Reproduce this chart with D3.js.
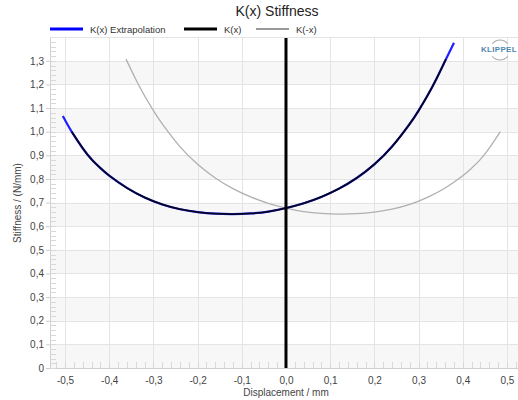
<!DOCTYPE html>
<html><head><meta charset="utf-8">
<script src="https://cdn.jsdelivr.net/npm/d3@7/dist/d3.min.js"></script>
<style>body{margin:0;background:#fff;font-family:Arial,"Liberation Sans",sans-serif}</style>
</head><body><svg id="c" width="518" height="400"></svg>
<script>
// Data
const xTicks = [-0.5,-0.4,-0.3,-0.2,-0.1,0.0,0.1,0.2,0.3,0.4,0.5];
const yTicks = [0,0.1,0.2,0.3,0.4,0.5,0.6,0.7,0.8,0.9,1.0,1.1,1.2,1.3];
const extrapX = [-0.505,-0.485,-0.46,-0.44,-0.42,-0.40,-0.36,-0.32,-0.28,-0.24,-0.20,-0.16,-0.12,-0.08,-0.04,0.00,0.04,0.08,0.12,0.16,0.20,0.24,0.28,0.30,0.32,0.34,0.36,0.38];
const extrapK = [1.066,1.000,0.930,0.883,0.846,0.814,0.762,0.722,0.692,0.672,0.660,0.653,0.651,0.654,0.662,0.677,0.697,0.724,0.759,0.804,0.862,0.937,1.033,1.089,1.152,1.222,1.299,1.376];
const kxX = [-0.485,-0.46,-0.44,-0.42,-0.40,-0.36,-0.32,-0.28,-0.24,-0.20,-0.16,-0.12,-0.08,-0.04,0.00,0.04,0.08,0.12,0.16,0.20,0.24,0.28,0.30,0.32,0.34,0.362];
const kxK = [1.000,0.930,0.883,0.846,0.814,0.762,0.722,0.692,0.672,0.660,0.653,0.651,0.654,0.662,0.677,0.697,0.724,0.759,0.804,0.862,0.937,1.033,1.089,1.152,1.222,1.307];
const kmxX = [-0.362,-0.34,-0.32,-0.30,-0.28,-0.24,-0.20,-0.16,-0.12,-0.08,-0.04,0.00,0.04,0.08,0.12,0.16,0.20,0.24,0.28,0.32,0.36,0.40,0.42,0.44,0.46,0.485];
const kmxK = [1.307,1.222,1.152,1.089,1.033,0.937,0.862,0.804,0.759,0.724,0.697,0.677,0.662,0.654,0.651,0.653,0.660,0.672,0.692,0.722,0.762,0.814,0.846,0.883,0.930,1.000];

const svg = d3.select('#c');
const L=50,R=518,T=38,B=368;
const x = d3.scaleLinear().domain([-0.534,0.525]).range([L,R]);
const y = d3.scaleLinear().domain([0,1.3965]).range([B,T]);
const fmt = d => d3.format('.1f')(d).replace('.',',').replace('−','-');

// bands
const bands = [0,0.2,0.4,0.6,0.8,1.0,1.2];
svg.append('g').selectAll('rect').data(bands).join('rect')
  .attr('x',L).attr('width',R-L).attr('y',d=>y(d+0.1)).attr('height',d=>y(d)-y(d+0.1)).attr('fill','#f7f7f7');
// grid
const g = svg.append('g').attr('stroke','#e4e4e4').attr('stroke-width',1);
g.selectAll('.h').data(yTicks.concat([1.4])).join('line').attr('x1',L).attr('x2',R).attr('y1',d=>Math.round(y(d))+0.5).attr('y2',d=>Math.round(y(d))+0.5);
g.selectAll('.v').data(xTicks).join('line').attr('y1',T).attr('y2',B).attr('x1',d=>Math.round(x(d))+0.5).attr('x2',d=>Math.round(x(d))+0.5);
g.append('line').attr('x1',L+0.5).attr('x2',L+0.5).attr('y1',T).attr('y2',B).attr('stroke','#d0d0d0');
g.append('line').attr('x1',L).attr('x2',R).attr('y1',B+0.5).attr('y2',B+0.5).attr('stroke','#d0d0d0');
// minor ticks
const yMinor = d3.range(0,1.40,0.02);
g.selectAll('.ym').data(yMinor).join('line').attr('x1',L).attr('x2',L+6).attr('y1',d=>Math.round(y(d))+0.5).attr('y2',d=>Math.round(y(d))+0.5).attr('stroke','#d8d8d8');
const xMinor = d3.range(-0.52,0.53,0.02);
g.selectAll('.xm').data(xMinor).join('line').attr('y1',B).attr('y2',B-6).attr('x1',d=>Math.round(x(d))+0.5).attr('x2',d=>Math.round(x(d))+0.5).attr('stroke','#d8d8d8');

// axes labels via d3 axes
const ya = svg.append('g').attr('transform',`translate(${L},0)`).call(d3.axisLeft(y).tickValues(yTicks).tickFormat(d=>d===0?'0':fmt(d)).tickSize(4));
ya.select('.domain').remove();
ya.selectAll('line').attr('stroke','#ccc');
ya.selectAll('text').attr('fill','#444').style('font-size','10px').style('font-family','Arial,"Liberation Sans",sans-serif').attr('x',-6);
const xa = svg.append('g').attr('transform',`translate(0,${B})`).call(d3.axisBottom(x).tickValues(xTicks).tickFormat(fmt).tickSize(0));
xa.select('.domain').remove();
xa.selectAll('text').attr('fill','#444').style('font-size','10px').style('font-family','Arial,"Liberation Sans",sans-serif').attr('y',9);

// lines
const line = d3.line().x(d=>x(d[0])).y(d=>y(d[1])).curve(d3.curveNatural);
svg.append('path').attr('d',line(d3.zip(kmxX,kmxK))).attr('fill','none').attr('stroke','#b0b0b0').attr('stroke-width',1.3);
svg.append('path').attr('d',line(d3.zip(extrapX,extrapK))).attr('fill','none').attr('stroke','#2020ff').attr('stroke-width',2.2);
svg.append('path').attr('d',line(d3.zip(kxX,kxK))).attr('fill','none').attr('stroke','#000').attr('stroke-width',1.8).attr('stroke-opacity',0.85);
// zero line
svg.append('line').attr('x1',x(0)).attr('x2',x(0)).attr('y1',T).attr('y2',B).attr('stroke','#000').attr('stroke-width',3);

// title
svg.append('text').attr('x',277).attr('y',16).attr('text-anchor','middle').attr('fill','#222').style('font-size','14px').text('K(x) Stiffness');
// legend
const leg = [{c:'#0000ff',t:'K(x) Extrapolation',x:50},{c:'#000',t:'K(x)',x:184},{c:'#999',t:'K(-x)',x:256}];
const lg = svg.append('g');
leg.forEach(d=>{
  lg.append('line').attr('x1',d.x).attr('x2',d.x+33).attr('y1',29).attr('y2',29).attr('stroke',d.c).attr('stroke-width',d.c==='#999'?2:3);
  lg.append('text').attr('x',d.x+40).attr('y',32.5).attr('fill','#333').style('font-size','9.5px').text(d.t);
});
// axis titles
svg.append('text').attr('x',286).attr('y',396).attr('text-anchor','middle').attr('fill','#444').style('font-size','10px').text('Displacement / mm');
svg.append('text').attr('transform','translate(21,203) rotate(-90)').attr('text-anchor','middle').attr('fill','#444').style('font-size','10px').text('Stiffness / (N/mm)');
// logo
svg.append('text').attr('x',499).attr('y',52).attr('text-anchor','middle').attr('fill','#4f86b0').style('font-size','8px').style('font-weight','bold').attr('letter-spacing','0.3').text('KLIPPEL');
const arc = d3.arc();
svg.append('path').attr('transform','translate(500,50)').attr('d',arc({innerRadius:9.5,outerRadius:10.5,startAngle:-0.9,endAngle:0.9})).attr('fill','#aaa');
svg.append('path').attr('transform','translate(500,50)').attr('d',arc({innerRadius:9.5,outerRadius:10.5,startAngle:Math.PI-0.9,endAngle:Math.PI+0.9})).attr('fill','#aaa');
</script></body></html>
